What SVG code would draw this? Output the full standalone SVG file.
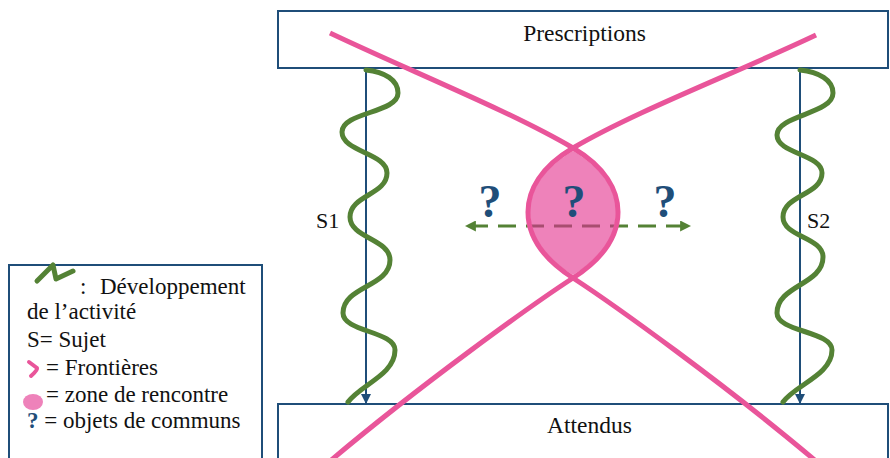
<svg xmlns="http://www.w3.org/2000/svg" width="890" height="458" viewBox="0 0 890 458">
<style>
.box{fill:#fff;stroke:#1F4E79;stroke-width:2}
.t{font-family:"Liberation Serif","DejaVu Serif","Times New Roman",serif;fill:#111}
.wave{fill:none;stroke:#548235;stroke-width:5;stroke-linecap:round;stroke-linejoin:round}
.frontier{fill:none;stroke:#E9559A;stroke-width:5;stroke-linecap:butt}
.sline{stroke:#1F4E79;stroke-width:2;fill:none}
.q{font-family:"Liberation Serif","DejaVu Serif","Times New Roman",serif;font-weight:bold;fill:#1F4E79}
</style>
<defs>
<marker id="blueArrow" viewBox="0 0 10 10" refX="10" refY="5" markerWidth="10" markerHeight="10" markerUnits="userSpaceOnUse" orient="auto">
<path d="M0,0 L10,5 L0,10 z" fill="#1F4E79"/>
</marker>
<marker id="greenArrow" viewBox="0 0 10 10" refX="9" refY="5" markerWidth="11" markerHeight="11" markerUnits="userSpaceOnUse" orient="auto-start-reverse">
<path d="M0,0 L10,5 L0,10 z" fill="#548235"/>
</marker>
<path id="lensShape" d="M573,151 C605,170 616,191 616,212 C616,235 603,257 573,275 C543,257 530,235 530,212 C530,191 541,170 573,151 Z"/>
<clipPath id="lensClip"><use href="#lensShape"/></clipPath>
</defs>

<g id="prescriptions">
<rect class="box" x="278" y="11" width="610" height="57"/>
<text class="t" x="584.5" y="41" font-size="23.5" text-anchor="middle">Prescriptions</text>
</g>

<g id="attendus">
<rect class="box" x="278" y="404" width="610" height="80"/>
<text class="t" x="589.5" y="433" font-size="23.5" text-anchor="middle">Attendus</text>
</g>

<g id="legend">
<rect class="box" x="9" y="265" width="253" height="230"/>
<path class="wave" d="M37,281 L53,265 L56,279 L73,271"/>
<text class="t" font-size="23" x="80" y="294">:</text>
<text class="t" font-size="23" x="100" y="294">Développement</text>
<text class="t" font-size="23" x="27" y="319">de l’activité</text>
<text class="t" font-size="23" x="27" y="347">S= Sujet</text>
<path d="M29,362 L37,368 Q38,370 31,376" fill="none" stroke="#E9559A" stroke-width="4" stroke-linecap="round" stroke-linejoin="round"/>
<text class="t" font-size="23" x="46" y="375">= Frontières</text>
<ellipse cx="33" cy="402" rx="10" ry="8" fill="#EE82BA"/>
<text class="t" font-size="23" x="46" y="402">= zone de rencontre</text>
<text class="t" font-size="23" x="27" y="428"><tspan fill="#1F4E79" font-weight="bold">?</tspan> = objets de communs</text>
</g>

<g id="connectors">
<line class="sline" x1="366" y1="68" x2="366" y2="404" marker-end="url(#blueArrow)"/>
<line class="sline" x1="800" y1="68" x2="800" y2="404" marker-end="url(#blueArrow)"/>
<line x1="466" y1="226" x2="690" y2="226" stroke="#548235" stroke-width="3" stroke-dasharray="18 10" stroke-dashoffset="-4" marker-start="url(#greenArrow)" marker-end="url(#greenArrow)"/>
</g>

<g id="s1">
<path class="wave" d="M366,70 C385,72 398,80 398,93 C398,113 342,112 342,132 C342,152 387,153 387,173 C387,195 350,195 350,217 C350,238 390,239 390,260 C390,287 343,286 343,313 C343,332 395,331 395,350 C395,375 360,385 348,402"/>
<text class="t" font-size="22" x="316" y="228">S1</text>
</g>

<g id="s2">
<path class="wave" d="M800,70 C819,72 833,80 833,93 C833,114 777,115 777,135 C777,154 822,154 822,173 C822,195 783,195 783,217 C783,237 823,237 823,257 C823,285 777,285 777,313 C777,332 832,331 832,350 C832,375 795,385 783,402"/>
<text class="t" font-size="22" x="807" y="228">S2</text>
</g>

<g id="zone">
<use href="#lensShape" fill="#EE82BA"/>
<line x1="466" y1="226" x2="690" y2="226" stroke="#A84D70" stroke-width="3" stroke-dasharray="18 10" stroke-dashoffset="-4" clip-path="url(#lensClip)"/>
<path class="frontier" d="M330,33 C410,71 510,111 573,148 C605,167 618,190 618,212 C618,236 604,258 573,278 C533,304 420,385 329,462"/>
<path class="frontier" d="M816,35 C736,73 636,111 573,148 C541,167 528,190 528,212 C528,236 542,258 573,278 C613,304 726,385 817,462"/>
<text class="q" font-size="46" x="574" y="217" text-anchor="middle">?</text>
<text class="q" font-size="46" x="490" y="217" text-anchor="middle">?</text>
<text class="q" font-size="46" x="665" y="217" text-anchor="middle">?</text>
</g>
</svg>
